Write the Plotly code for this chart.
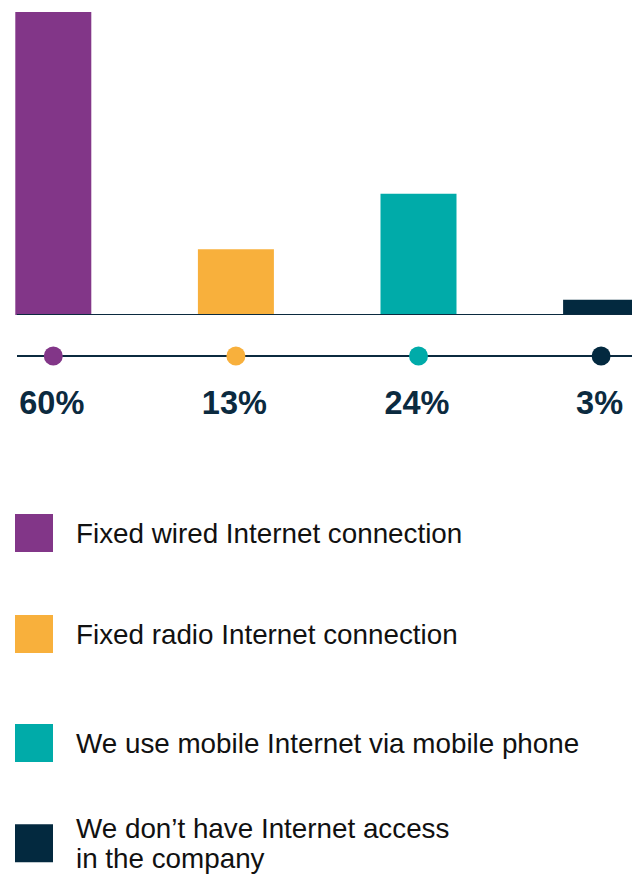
import plotly.graph_objects as go

# ---- data -------------------------------------------------------------
categories = [
    "Fixed wired Internet connection",
    "Fixed radio Internet connection",
    "We use mobile Internet via mobile phone",
    "We don’t have Internet access in the company",
]
legend_lines = [
    ["Fixed wired Internet connection"],
    ["Fixed radio Internet connection"],
    ["We use mobile Internet via mobile phone"],
    ["We don’t have Internet access", "in the company"],
]
shares = [60, 13, 24, 3]
colors = ["#823688", "#F8B03C", "#00ABA9", "#03293F"]

# ---- geometry / style -------------------------------------------------
W, H = 632, 874
NAVY = "#0B2A3F"
TEXT = "#111111"

slot_px = 182.6          # distance between bar centres
first_center_px = 53.3   # centre of the first bar
bar_px = 76              # bar width
baseline_px = 315        # pixel row of the zero line
top_px = 12              # pixel row of the y-axis maximum
axis_max = 60

x_left = -first_center_px / slot_px
x_right = (W - first_center_px) / slot_px
line_start = (17 - first_center_px) / slot_px
label_shift = -1.5 / slot_px   # percentages sit a hair left of the dots

dot_row = 356
label_row = 406
legend_rows = [533, 634, 743, [828, 858.5]]
swatch_x = 34
legend_text_x = 76

pos = list(range(len(categories)))

fig = go.Figure()

# bars
fig.add_trace(go.Bar(
    x=pos, y=shares, width=bar_px / slot_px,
    marker=dict(color=colors, line=dict(width=0)),
    xaxis="x", yaxis="y", hoverinfo="skip",
))

# dots on the timeline row
fig.add_trace(go.Scatter(
    x=pos, y=[dot_row] * len(pos), mode="markers",
    marker=dict(size=19, color=colors, line=dict(width=0)),
    xaxis="x", yaxis="y2", hoverinfo="skip",
))

# percentage labels
fig.add_trace(go.Scatter(
    x=[p + label_shift for p in pos], y=[label_row] * len(pos), mode="text",
    text=[f"{v}%" for v in shares], textposition="middle center",
    textfont=dict(family="Liberation Sans, Arial, sans-serif", size=32.5,
                  color=NAVY, weight="bold"),
    xaxis="x", yaxis="y2", hoverinfo="skip", cliponaxis=False,
))

# legend swatches
sw_y = [r if not isinstance(r, list) else sum(r) / 2 for r in legend_rows]
fig.add_trace(go.Scatter(
    x=[swatch_x] * len(categories), y=sw_y, mode="markers",
    marker=dict(symbol="square", size=38, color=colors, line=dict(width=0)),
    xaxis="x2", yaxis="y2", hoverinfo="skip",
))

annotations = []
for lines, row in zip(legend_lines, legend_rows):
    rows = row if isinstance(row, list) else [row]
    for txt, yy in zip(lines, rows):
        annotations.append(dict(
            x=legend_text_x, y=yy, xref="x2", yref="y2",
            text=txt, showarrow=False, xanchor="left", yanchor="middle",
            borderpad=0, borderwidth=0,
            font=dict(family="Liberation Sans, Arial, sans-serif",
                      size=27.8, color=TEXT),
        ))

shapes = [
    # zero line under the bars
    dict(type="line", xref="x", yref="y", x0=line_start, x1=x_right,
         y0=0, y1=0, line=dict(color=NAVY, width=2), layer="above"),
    # timeline under the percentages
    dict(type="line", xref="x", yref="y2", x0=line_start, x1=x_right,
         y0=dot_row, y1=dot_row, line=dict(color=NAVY, width=2),
         layer="below"),
]

hidden = dict(visible=False, showgrid=False, zeroline=False,
              showticklabels=False, fixedrange=True)

fig.update_layout(
    width=W, height=H,
    margin=dict(l=0, r=0, t=0, b=0, pad=0),
    paper_bgcolor="white", plot_bgcolor="rgba(0,0,0,0)",
    showlegend=False,
    xaxis=dict(range=[x_left, x_right], domain=[0, 1], anchor="y", **hidden),
    yaxis=dict(range=[0, axis_max],
               domain=[(H - baseline_px) / H, (H - top_px) / H],
               anchor="x", **hidden),
    xaxis2=dict(range=[0, W], domain=[0, 1], anchor="y2", **hidden),
    yaxis2=dict(range=[H, 0], domain=[0, 1], anchor="x2", **hidden),
    shapes=shapes,
    annotations=annotations,
)

fig.write_html("out.html")
